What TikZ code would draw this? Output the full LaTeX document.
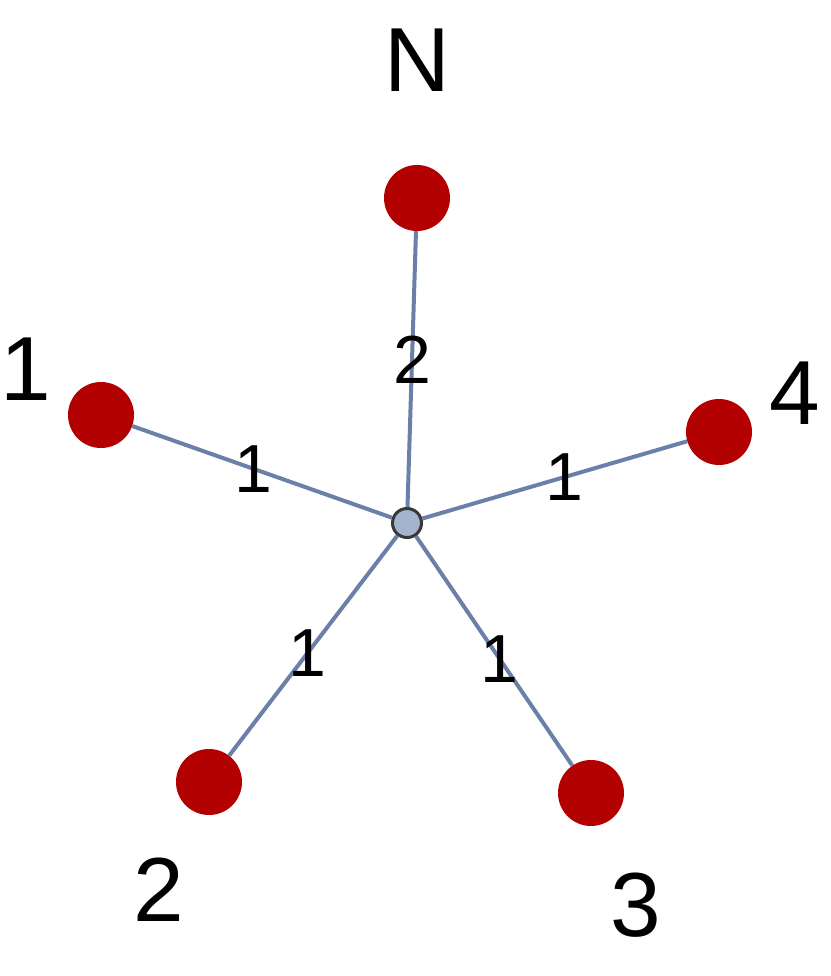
\documentclass[tikz,border=0pt]{standalone}
\usepackage{fontspec}
\setmainfont{Liberation Sans}
\usetikzlibrary{positioning}
\definecolor{leafred}{HTML}{B30000}
\definecolor{linkblue}{HTML}{6A80A8}
\definecolor{hubfill}{HTML}{A4B4CC}
\definecolor{hubrim}{HTML}{383838}

\begin{document}
\begin{tikzpicture}[x=1pt,y=-1pt,on grid,
   leaf/.style={circle,fill=leafred,minimum size=66pt,inner sep=0pt},
   hub/.style={circle,draw=hubrim,line width=3pt,fill=hubfill,minimum size=29pt,inner sep=0pt},
   tag/.style={font=\fontsize{91}{91}\selectfont,inner sep=0pt},
   weight/.style={font=\fontsize{68}{68}\selectfont,inner sep=0pt,pos=0.535},
   link/.style={draw=linkblue,line width=4pt}]
   \useasboundingbox (0,0) rectangle (830,976);
   \node[hub] (hub) at (407,523) {};
   \node[leaf] (nN) at (417,198) {};
   \node[leaf] (n1) at (101,415) {};
   \node[leaf] (n2) at (209,782) {};
   \node[leaf] (n3) at (591,793) {};
   \node[leaf] (n4) at (719,432) {};
   \node[tag] (tN) [above=138pt of nN] {N};
   \node[tag] (t1) [above left=46pt and 75pt of n1] {1};
   \node[tag] (t2) [below left=108pt and 50pt of n2] {2};
   \node[tag] (t3) [below right=112pt and 45pt of n3] {3};
   \node[tag] (t4) [above right=39pt and 76pt of n4] {4};
   \path[link]
    (hub) edge node[weight] {2} (nN)
          edge node[weight] {1} (n1)
          edge node[weight] {1} (n2)
          edge node[weight] {1} (n3)
          edge node[weight] {1} (n4);
\end{tikzpicture}
\end{document}
